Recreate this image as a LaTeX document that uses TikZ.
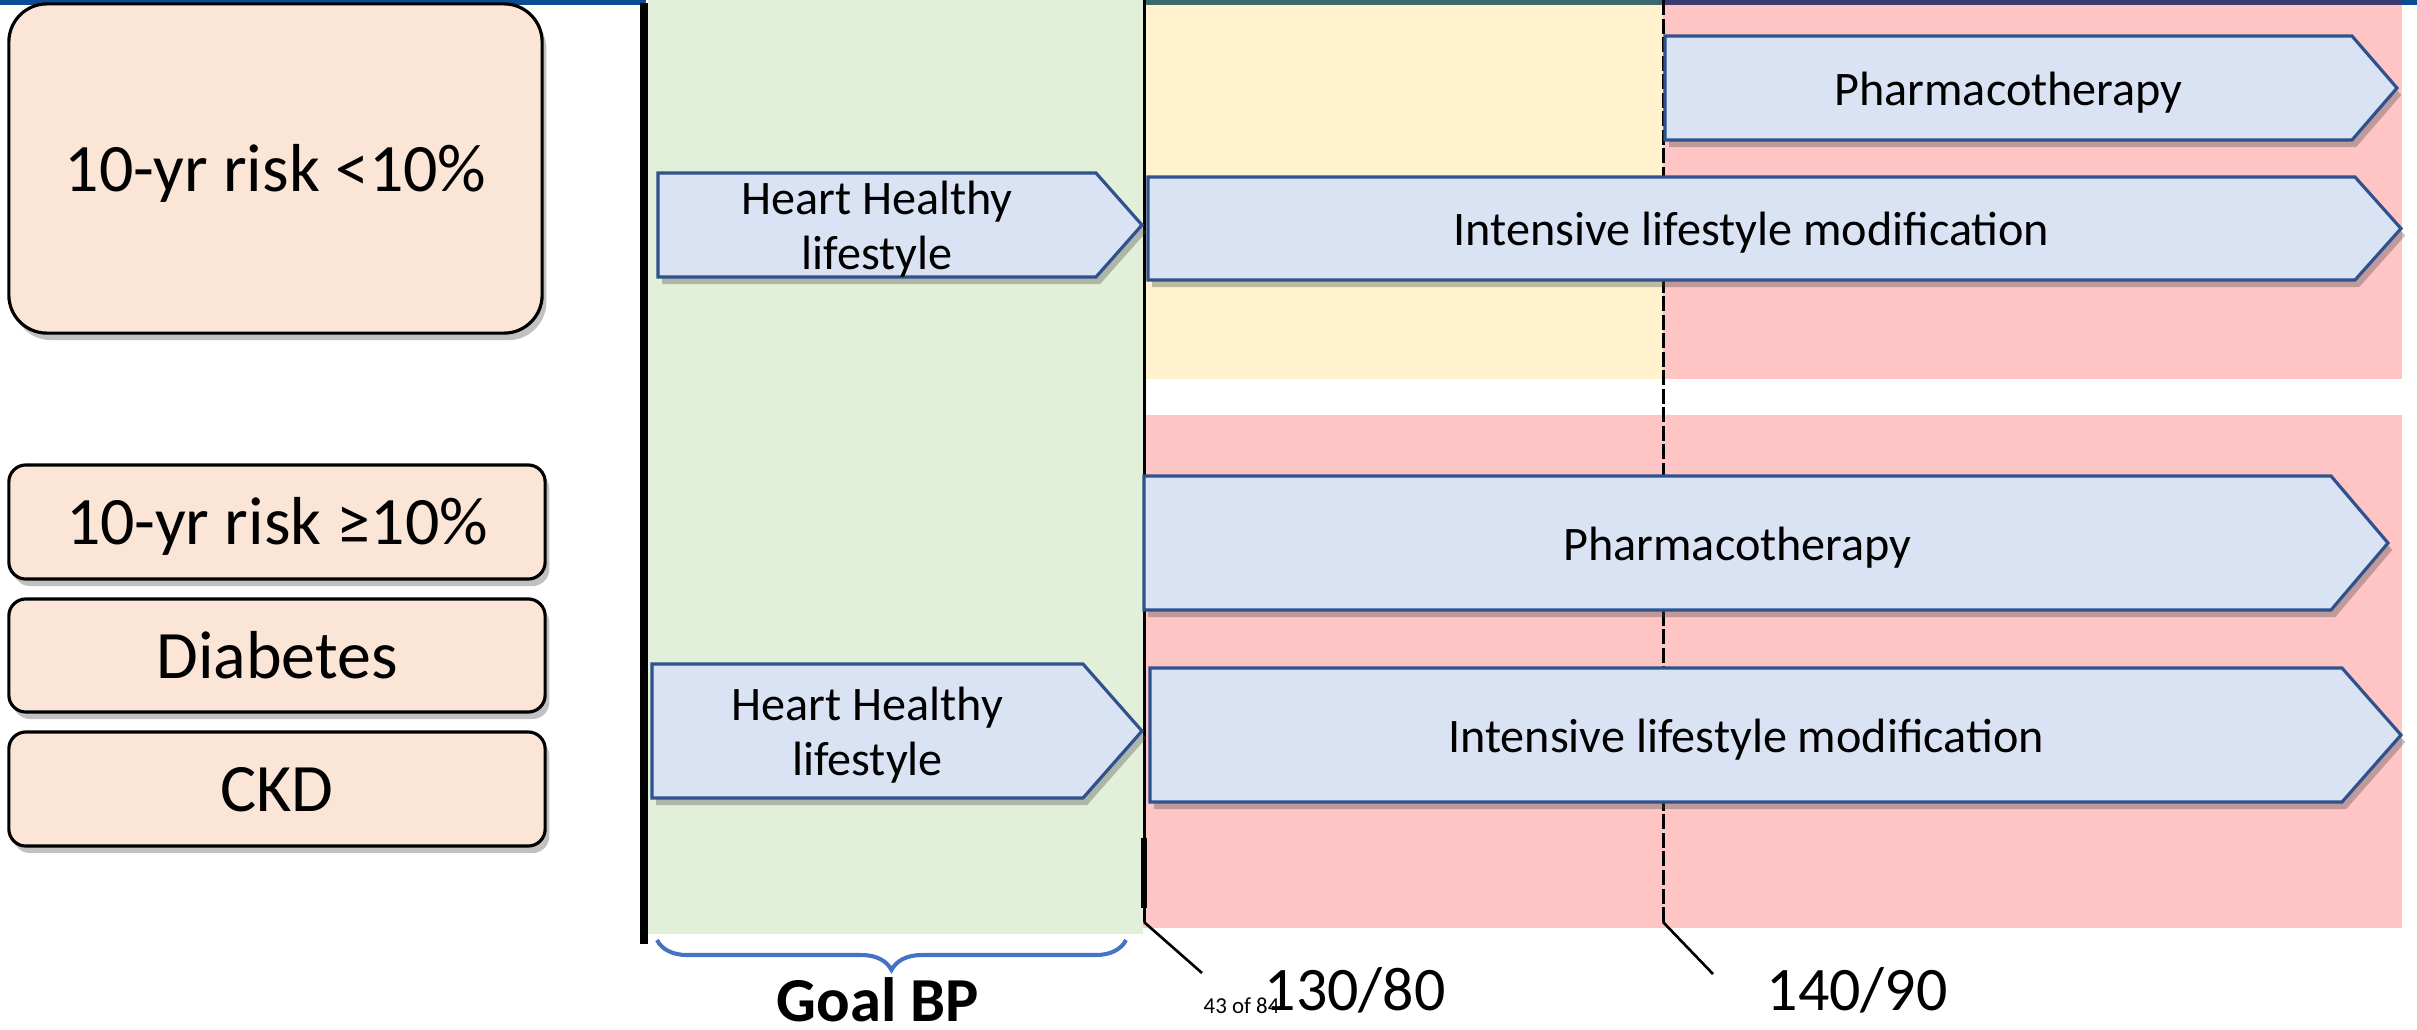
\documentclass[tikz,border=0pt]{standalone}
\usepackage{fontspec}
\setmainfont{Carlito}
\usetikzlibrary{shadows,decorations.pathreplacing}
\definecolor{goalgreen}{HTML}{E2F0D9}
\definecolor{warnyellow}{HTML}{FFF2CC}
\definecolor{riskpink}{HTML}{FFC5C5}
\definecolor{peach}{HTML}{FBE5D6}
\definecolor{arrowfill}{HTML}{DAE3F3}
\definecolor{arrowline}{HTML}{2F528F}
\definecolor{bracecol}{HTML}{4472C4}
\definecolor{barblue}{HTML}{0B4D94}
\definecolor{barteal}{HTML}{3B6A6E}
\definecolor{barnavy}{HTML}{3B3A6E}
\tikzset{
  softshadow/.style={drop shadow={shadow xshift=1.2pt,shadow yshift=-2pt,opacity=0.35,fill=black!70}},
  riskbox/.style={draw=black,line width=0.9pt,fill=peach,softshadow,inner sep=0pt,
    text height=12.8pt,text depth=0pt,
    font=\fontsize{19.3}{23}\selectfont},
  arrowshape/.style={draw=arrowline,line width=0.9pt,fill=arrowfill,line join=miter,softshadow},
  arrowtext/.style={align=center,inner sep=0pt,yshift=-0.045cm,font=\fontsize{13.7}{15.7}\selectfont},
  bplabel/.style={anchor=base west,inner sep=0pt,font=\fontsize{17.6}{20}\selectfont},
  ticklink/.style={draw=black,line width=0.75pt},
}
\newcommand\hplate[7]{%
  \draw[arrowshape] (#2,#3) -- (#4,#3) -- (#5,{(#3+#6)/2}) -- (#4,#6) -- (#2,#6) -- cycle;
  \node[arrowtext] (#1) at ({(#2+#4)/2},{(#3+#6)/2}) {#7};
}
\begin{document}
\begin{tikzpicture}[x=0.01cm,y=-0.01cm]
\useasboundingbox (0,0) rectangle (2417,1030);
% header remnants
\fill[barblue] (0,0) rectangle (646,5);
\fill[barteal] (1143,0) rectangle (1663,5);
\fill[barnavy] (1663,0) rectangle (2402,5);
\fill[barblue] (2402,0) rectangle (2417,5);
% zones
\fill[goalgreen] (648,0) rectangle (1143,934);
\fill[warnyellow] (1143,5) rectangle (1663,379);
\fill[riskpink] (1663,5) rectangle (2402,379);
\fill[riskpink] (1143,415) rectangle (2402,928);
% thresholds
\draw[black,line width=2.3pt] (644,3) -- (644,944);
\coordinate (t130) at (1144,922);
\coordinate (t130end) at (1202,973);
\coordinate (t140) at (1663,922);
\coordinate (t140end) at (1713,974);
\draw[black,line width=0.85pt] (1144,0) -- (t130);
\draw[black,line width=1.7pt] (1144,838) -- (1144,908);
\draw[black,line width=0.85pt,dash pattern=on 0.15cm off 0.035cm] (1663,0) -- (t140);
\draw[ticklink] (t130) -- (t130end);
\draw[ticklink] (t140) -- (t140end);
% arrows
\hplate{hh1}{658}{173}{1096}{1142}{277}{Heart Healthy\\lifestyle}
\hplate{pt1}{1665}{36}{2352}{2397}{140}{Pharmacotherapy}
\hplate{il1}{1148}{177}{2355}{2401}{280}{Intensive lifestyle modification}
\hplate{pt2}{1144}{476}{2331}{2388}{610}{Pharmacotherapy}
\hplate{hh2}{652}{664}{1083}{1142}{798}{Heart Healthy\\lifestyle}
\hplate{il2}{1150}{668}{2342}{2401}{802}{Intensive lifestyle modification}
% risk boxes
\node[riskbox,rounded corners=0.38cm,minimum width=5.33cm,minimum height=3.29cm] (low) at (275.5,168.5) {10-yr risk <10\%};
\node[riskbox,rounded corners=0.17cm,minimum width=5.36cm,minimum height=1.14cm] (high) at (277,522) {10-yr risk ≥10\%};
\node[riskbox,rounded corners=0.17cm,minimum width=5.36cm,minimum height=1.13cm] (dm) at (277,655.5) {Diabetes};
\node[riskbox,rounded corners=0.17cm,minimum width=5.36cm,minimum height=1.14cm] (ckd) at (277,789) {CKD};
% brace and labels
\coordinate (brL) at (657,940);
\coordinate (brR) at (1126,940);
\draw[bracecol,line width=1.15pt,decorate,decoration={brace,mirror,amplitude=0.3cm}] (brL) -- (brR);
\node[anchor=base,inner sep=0pt,font=\fontsize{17.8}{20}\selectfont\bfseries] (goal) at (878,1021) {Goal BP};
\node[bplabel] (bp130) at (1264,1010) {130/80};
\node[bplabel] (bp140) at (1766,1010) {140/90};
\node[anchor=base west,inner sep=0pt,font=\fontsize{6.5}{7}\selectfont] (page) at (1203,1013) {43 of 84};
\end{tikzpicture}
\end{document}
